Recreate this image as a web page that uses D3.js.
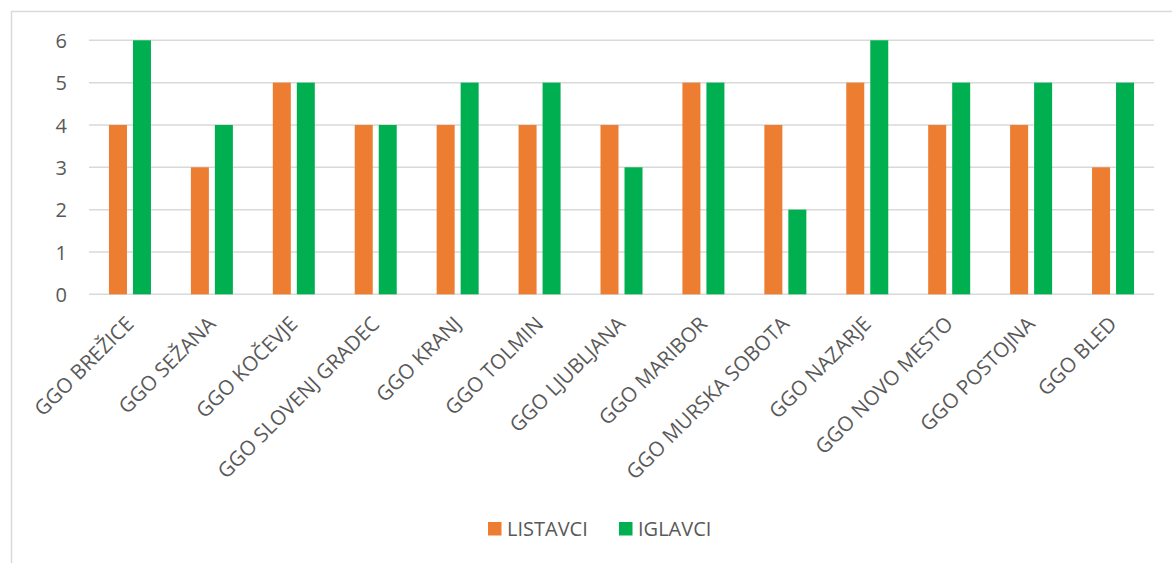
<!DOCTYPE html>
<html>
<head>
<meta charset="utf-8">
<script src="https://cdn.jsdelivr.net/npm/d3@7"></script>
<style>
  html, body { margin: 0; padding: 0; background: #fff; }
  svg text { font-family: "Open Sans", "Noto Sans", sans-serif; fill: #595959; }
</style>
</head>
<body>
<svg id="chart" width="1172" height="563"></svg>
<script>
// Forest management units and the number of species per group
const categories = [
  "GGO BREŽICE", "GGO SEŽANA", "GGO KOČEVJE", "GGO SLOVENJ GRADEC", "GGO KRANJ",
  "GGO TOLMIN", "GGO LJUBLJANA", "GGO MARIBOR", "GGO MURSKA SOBOTA", "GGO NAZARJE",
  "GGO NOVO MESTO", "GGO POSTOJNA", "GGO BLED"
];
const seriesNames = ["LISTAVCI", "IGLAVCI"];
const listavci = [4, 3, 5, 4, 4, 4, 4, 5, 4, 5, 4, 4, 3];
const iglavci  = [6, 4, 5, 4, 5, 5, 3, 5, 2, 6, 5, 5, 5];
const yTicks = [0, 1, 2, 3, 4, 5, 6];
const colors = ["#ED7D31", "#00B050"];

const seriesValues = [listavci, iglavci];
const rows = categories.map((c, i) => ({
  category: c,
  values: seriesNames.map((s, k) => ({ series: s, value: seriesValues[k][i], color: colors[k] }))
}));

const svg = d3.select("#chart");

// Chart frame
svg.append("rect")
  .attr("x", 11.5).attr("y", 11.5)
  .attr("width", 1175).attr("height", 570)
  .attr("fill", "none").attr("stroke", "#d9d9d9").attr("stroke-width", 1.5);

const plot = { left: 89, right: 1154, top: 40.3, bottom: 294.3 };

const x0 = d3.scaleBand().domain(categories).range([plot.left, plot.right]).paddingInner(0).paddingOuter(0);
const groupWidth = 42;
const x1 = d3.scaleBand().domain(seriesNames).range([0, groupWidth]).paddingInner(0.25).paddingOuter(0);
const y = d3.scaleLinear().domain([0, 6]).range([plot.bottom, plot.top]);

// Horizontal gridlines
svg.append("g")
  .selectAll("line")
  .data(yTicks)
  .join("line")
  .attr("x1", plot.left).attr("x2", plot.right)
  .attr("y1", d => y(d)).attr("y2", d => y(d))
  .attr("stroke", "#d9d9d9").attr("stroke-width", 1.5);

// Y axis labels
const yAxis = d3.axisLeft(y).tickValues(yTicks).tickSize(0).tickPadding(0).tickFormat(d3.format("d"));
const yg = svg.append("g").attr("transform", `translate(67,0)`).call(yAxis);
yg.select(".domain").remove();
yg.selectAll("text")
  .attr("font-size", 20)
  .attr("font-family", '"Open Sans", sans-serif')
  .attr("fill", "#595959")
  .attr("dy", "0.36em");

// Bars
const groups = svg.append("g")
  .selectAll("g")
  .data(rows)
  .join("g")
  .attr("transform", d => `translate(${x0(d.category) + x0.bandwidth() / 2 - groupWidth / 2},0)`);

groups.selectAll("rect")
  .data(d => d.values)
  .join("rect")
  .attr("x", d => x1(d.series))
  .attr("width", x1.bandwidth())
  .attr("y", d => y(d.value))
  .attr("height", d => y(0) - y(d.value))
  .attr("fill", d => d.color);

// Rotated category labels
const xAxis = d3.axisBottom(x0).tickSize(0).tickPadding(0);
const xg = svg.append("g").attr("transform", `translate(0,${plot.bottom})`).call(xAxis);
xg.select(".domain").remove();
xg.selectAll(".tick text")
  .attr("font-size", 20.5)
  .attr("font-family", '"Open Sans", sans-serif')
  .attr("fill", "#595959")
  .attr("text-anchor", "end")
  .attr("y", 0).attr("dy", 0)
  .attr("transform", "translate(5,31) rotate(-45)");

// Legend
const legend = svg.append("g").attr("transform", "translate(488,522)");
const legendX = [0, 131];
seriesNames.forEach((s, k) => {
  const g = legend.append("g").attr("transform", `translate(${legendX[k]},0)`);
  g.append("rect").attr("width", 13.5).attr("height", 13.5).attr("fill", colors[k]);
  g.append("text").attr("x", 19).attr("y", 7).attr("dy", "0.36em")
    .attr("font-size", 20).text(s);
});
</script>
</body>
</html>
